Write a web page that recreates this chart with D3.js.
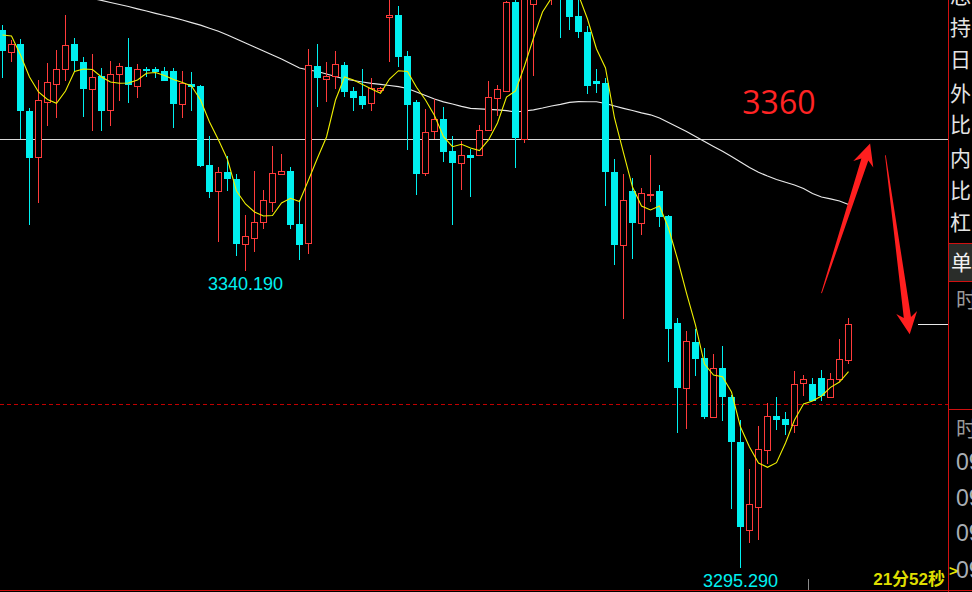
<!DOCTYPE html>
<html><head><meta charset="utf-8">
<script src="https://cdn.jsdelivr.net/npm/d3@7"></script>
<style>html,body{margin:0;padding:0;background:#000;overflow:hidden}svg{display:block}</style>
</head><body><svg id="c" width="972" height="592"></svg>
<script>
// ---- data (prices) ----
const opens = [3376.50,3373.23,3374.39,3364.28,3357.30,3365.59,3368.40,3370.57,3374.39,3371.68,3367.56,3369.56,3364.39,3369.82,3370.92,3368.01,3370.62,3370.62,3370.32,3370.32,3365.38,3368.36,3368.05,3356.13,3352.26,3355.03,3354.02,3344.26,3345.17,3347.58,3350.60,3354.82,3355.23,3347.23,3344.41,3371.07,3369.07,3369.56,3371.22,3367.30,3366.55,3365.44,3367.45,3378.51,3378.77,3372.58,3365.64,3354.97,3361.22,3363.08,3358.25,3356.48,3357.69,3357.69,3361.46,3366.29,3367.35,3380.73,3360.10,3380.38,3384.00,3383.00,3387.00,3382.00,3378.62,3376.20,3368.81,3368.51,3355.08,3344.11,3352.21,3347.43,3351.61,3352.21,3348.44,3332.30,3322.56,3329.43,3327.01,3318.16,3325.48,3321.13,3314.34,3301.02,3304.49,3313.09,3318.27,3317.81,3316.95,3323.20,3323.09,3323.95,3321.18,3323.89,3326.76];
const highs = [3377.26,3374.99,3375.15,3364.78,3368.96,3371.57,3373.49,3378.77,3375.34,3372.48,3372.88,3370.72,3371.83,3371.52,3375.34,3371.37,3370.92,3370.92,3370.92,3370.77,3370.32,3370.17,3368.21,3360.51,3355.88,3357.49,3354.78,3348.59,3355.23,3352.36,3359.00,3357.79,3355.83,3350.85,3373.64,3374.39,3371.68,3373.34,3371.68,3367.90,3370.62,3369.26,3367.90,3381.80,3380.12,3373.34,3365.94,3364.58,3366.14,3364.89,3360.51,3359.76,3358.59,3362.17,3368.81,3368.21,3380.90,3381.00,3384.50,3385.50,3387.00,3387.50,3388.00,3382.50,3381.50,3377.11,3370.62,3369.20,3357.00,3354.78,3354.13,3352.66,3357.64,3353.12,3348.59,3333.01,3331.09,3331.35,3328.49,3327.62,3328.83,3321.43,3317.66,3310.27,3316.76,3320.23,3321.13,3318.87,3325.05,3324.45,3324.00,3325.20,3324.75,3329.88,3333.05];
const lows = [3369.31,3371.72,3360.01,3347.08,3350.45,3362.02,3363.27,3368.85,3370.21,3363.42,3361.31,3361.31,3362.06,3365.84,3365.53,3366.29,3369.46,3369.31,3368.81,3361.76,3363.27,3364.33,3355.88,3351.20,3344.56,3352.26,3342.40,3340.19,3343.05,3346.48,3349.04,3354.63,3346.48,3341.80,3342.71,3364.89,3365.64,3367.60,3366.40,3364.28,3364.58,3364.28,3367.15,3371.72,3370.97,3358.40,3351.61,3354.52,3360.01,3356.63,3347.13,3352.36,3351.35,3357.64,3361.31,3363.57,3367.20,3355.73,3359.50,3369.61,3382.00,3380.28,3375.34,3376.50,3375.34,3366.85,3367.04,3349.95,3341.09,3332.94,3342.00,3345.62,3350.60,3346.83,3326.46,3315.74,3316.35,3324.30,3317.76,3318.11,3317.55,3304.28,3295.29,3299.15,3299.60,3311.07,3316.15,3315.44,3315.74,3321.33,3320.48,3320.57,3321.18,3323.44,3326.16];
const closes = [3373.38,3374.39,3364.33,3357.24,3365.94,3368.66,3370.57,3374.24,3371.83,3367.65,3369.41,3364.33,3369.86,3371.07,3368.25,3370.62,3370.32,3370.12,3368.85,3365.38,3368.51,3367.95,3356.03,3352.11,3355.03,3354.02,3344.21,3345.38,3347.53,3350.81,3354.88,3355.18,3347.08,3344.07,3371.18,3369.26,3369.56,3371.37,3367.15,3366.24,3365.19,3367.71,3367.75,3378.77,3372.48,3365.23,3354.82,3361.07,3363.08,3358.14,3356.48,3357.64,3357.24,3361.37,3366.39,3367.56,3380.68,3360.25,3383.50,3384.50,3386.00,3386.00,3382.00,3378.51,3376.25,3368.10,3368.40,3355.12,3344.11,3350.85,3347.43,3351.86,3351.80,3348.33,3331.39,3322.56,3329.55,3326.91,3318.16,3325.48,3321.06,3314.39,3301.56,3304.99,3313.24,3318.22,3317.71,3316.95,3323.05,3323.85,3320.48,3321.33,3323.89,3326.82,3332.10];
const maShort = [3375.75,3375.60,3372.73,3369.41,3367.15,3366.02,3365.44,3367.30,3370.24,3370.62,3370.54,3369.41,3368.66,3368.46,3368.51,3368.96,3369.97,3370.09,3369.64,3369.03,3368.58,3368.05,3365.94,3362.62,3359.91,3356.96,3352.21,3350.25,3349.04,3348.44,3348.52,3350.40,3351.11,3350.63,3353.87,3357.19,3360.36,3365.94,3369.41,3368.96,3368.28,3367.60,3366.95,3369.11,3370.36,3370.24,3367.86,3365.94,3363.60,3360.40,3358.90,3359.26,3358.70,3358.32,3359.91,3362.47,3366.39,3367.30,3371.07,3375.30,3379.22,3381.33,3382.84,3383.29,3381.78,3378.16,3373.64,3370.77,3363.23,3357.95,3352.81,3349.95,3349.35,3349.95,3346.63,3341.95,3336.82,3331.99,3326.11,3324.45,3324.19,3321.88,3316.60,3313.59,3311.17,3310.52,3311.22,3314.19,3317.66,3320.07,3320.53,3321.28,3322.59,3323.39,3324.95];
const maLong = [3384.65,3384.35,3383.97,3383.60,3383.22,3382.84,3382.46,3382.09,3381.78,3381.48,3381.26,3380.97,3380.65,3380.35,3380.05,3379.70,3379.37,3379.02,3378.69,3378.36,3378.01,3377.62,3377.23,3376.76,3376.32,3375.75,3375.15,3374.54,3373.94,3373.33,3372.73,3372.13,3371.45,3370.77,3370.47,3370.24,3369.86,3369.49,3369.11,3368.88,3368.66,3368.46,3368.31,3368.13,3367.95,3367.68,3367.15,3366.62,3366.09,3365.67,3365.34,3364.99,3364.69,3364.61,3364.54,3364.46,3364.33,3364.13,3364.28,3364.46,3364.73,3365.04,3365.29,3365.58,3365.70,3365.68,3365.68,3365.41,3365.04,3364.69,3364.36,3364.01,3363.71,3363.23,3362.55,3361.87,3361.19,3360.44,3359.68,3358.93,3358.20,3357.42,3356.59,3355.76,3355.03,3354.47,3353.95,3353.53,3353.12,3352.59,3351.83,3351.31,3351.03,3350.70,3350.17];
const levelLine = 3360;
const dashLevel = 3320;
const extremeLabels = [{i:27, price:3340.19}, {i:82, price:3295.29}];
const arrows = [{from:[91.0,3336.8], to:[96.4,3359.4]}, {from:[98.1,3357.6], to:[100.8,3330.6]}];
const panelTop = ["总","持","日","外","比","内","比","杠"];
const panelTimes = ["09","09","09","09"];
const countdown = "21分52秒";

// ---- drawing ----
const W = 972, H = 592, PX = 948;
const CYAN = "#00f0f0", RED = "#ff3b3b";
const svg = d3.select("#c");
svg.append("rect").attr("width", W).attr("height", H).attr("fill", "#000");

const x = d3.scaleLinear().domain([0, 94]).range([2.5, 848.5]);
const y = d3.scaleLinear().domain([3291.71, 3381.03]).range([H, 0]);

const defs = svg.append("defs");
defs.append("clipPath").attr("id", "plot").append("rect").attr("x", 0).attr("y", 0).attr("width", PX).attr("height", H);
const g = svg.append("g").attr("clip-path", "url(#plot)");

const data = opens.map((o, i) => ({i, o, h: highs[i], l: lows[i], c: closes[i], up: closes[i] >= opens[i]}));

// white horizontal level line
g.append("line").attr("x1", 0).attr("x2", PX).attr("y1", y(levelLine)).attr("y2", y(levelLine))
  .attr("stroke", "#d8d8d8").attr("stroke-width", 1).attr("shape-rendering", "crispEdges");
// red dashed line
g.append("line").attr("x1", 0).attr("x2", PX).attr("y1", y(dashLevel)).attr("y2", y(dashLevel))
  .attr("stroke", "#c00000").attr("stroke-width", 1).attr("stroke-dasharray", "4,3").attr("shape-rendering", "crispEdges");

// long MA (white)
const lineGen = d3.line().x((d, i) => x(i)).y(d => y(d));
g.append("path").attr("d", lineGen(maLong)).attr("fill", "none").attr("stroke", "#e8e8e8").attr("stroke-width", 1.2);

// candles
const cg = g.append("g");
cg.selectAll("line.wick").data(data).join("line").attr("class", "wick")
  .attr("x1", d => x(d.i)).attr("x2", d => x(d.i))
  .attr("y1", d => y(d.h)).attr("y2", d => y(d.l))
  .attr("stroke", d => d.up ? RED : CYAN).attr("stroke-width", 1).attr("shape-rendering", "crispEdges");
cg.selectAll("rect.dn").data(data.filter(d => !d.up)).join("rect").attr("class", "dn")
  .attr("x", d => x(d.i) - 3.5).attr("width", 7)
  .attr("y", d => y(d.o)).attr("height", d => Math.max(1.5, y(d.c) - y(d.o)))
  .attr("fill", CYAN).attr("shape-rendering", "crispEdges");
cg.selectAll("rect.up").data(data.filter(d => d.up)).join("rect").attr("class", "up")
  .attr("x", d => x(d.i) - 3).attr("width", 6)
  .attr("y", d => Math.round(y(d.c)) + 0.5).attr("height", d => Math.max(1, Math.round(y(d.o)) - Math.round(y(d.c))))
  .attr("fill", "#000").attr("stroke", RED).attr("stroke-width", 1).attr("shape-rendering", "crispEdges");

// short MA (yellow)
g.append("path").attr("d", lineGen(maShort)).attr("fill", "none").attr("stroke", "#f0f000").attr("stroke-width", 1.1);

// extreme labels
g.selectAll("text.ext").data(extremeLabels).join("text").attr("class", "ext")
  .attr("x", d => x(d.i)).attr("y", d => y(d.price) + 19)
  .attr("text-anchor", "middle").attr("fill", CYAN)
  .attr("font-family", "Liberation Sans, Arial, sans-serif").attr("font-size", 18)
  .text(d => d3.format(".3f")(d.price));

// level annotation text
g.append("text").attr("x", x(82.2)).attr("y", y(3363.9)).attr("fill", "#ff2424")
  .attr("font-family", "Open Sans, sans-serif").attr("font-size", 32).text(String(levelLine));

// arrows
function arrowPath(x0, y0, x1, y1) {
  const dx = x1 - x0, dy = y1 - y0, L = Math.hypot(dx, dy);
  const ux = dx / L, uy = dy / L, nx = -uy, ny = ux;
  const headLen = 22, headW = 10.5, neck = 17, shaftW = 3.6, tailW = 0.4;
  const bx = x1 - ux * neck, by = y1 - uy * neck;       // where shaft meets head
  const hx = x1 - ux * headLen, hy = y1 - uy * headLen; // barb base
  const p = [
    [x0 + nx * tailW, y0 + ny * tailW],
    [bx + nx * shaftW, by + ny * shaftW],
    [hx + nx * headW, hy + ny * headW],
    [x1, y1],
    [hx - nx * headW, hy - ny * headW],
    [bx - nx * shaftW, by - ny * shaftW],
    [x0 - nx * tailW, y0 - ny * tailW]
  ];
  return "M" + p.map(q => q[0].toFixed(1) + "," + q[1].toFixed(1)).join("L") + "Z";
}
svg.selectAll("path.arrow").data(arrows).join("path").attr("class", "arrow")
  .attr("d", d => arrowPath(x(d.from[0]), y(d.from[1]), x(d.to[0]), y(d.to[1])))
  .attr("fill", "#ff1f1f");

// last price short white line
svg.append("line").attr("x1", x(101.7)).attr("x2", PX).attr("y1", y(closes[closes.length - 1])).attr("y2", y(closes[closes.length - 1]))
  .attr("stroke", "#e8e8e8").attr("stroke-width", 1).attr("shape-rendering", "crispEdges");

// ---- right panel ----
const pr = (x1, y1, x2, y2) => svg.append("line").attr("x1", x1).attr("y1", y1).attr("x2", x2).attr("y2", y2)
  .attr("stroke", "#d01010").attr("stroke-width", 1).attr("shape-rendering", "crispEdges");
svg.append("rect").attr("x", 949).attr("y", 244).attr("width", 23).attr("height", 37).attr("fill", "#2a2d2a");
pr(948.5, 0, 948.5, H);
pr(948, 243.5, W, 243.5);
pr(948, 281.5, W, 281.5);
pr(948, 409.5, W, 409.5);
pr(0, 590.5, W, 590.5);

const cjk = "Noto Sans CJK SC, sans-serif";
const topCenters = [-5, 27, 59, 93, 124, 158, 190, 222];
svg.selectAll("text.pt").data(panelTop).join("text").attr("class", "pt")
  .attr("x", 950).attr("y", (d, i) => topCenters[i] + 8)
  .attr("fill", "#e4e4e4").attr("font-family", cjk).attr("font-size", 21).text(d => d);
svg.append("text").attr("x", 951).attr("y", 270).attr("fill", "#f2f2f2").attr("font-family", cjk).attr("font-size", 21).text("单");
svg.append("text").attr("x", 956).attr("y", 307).attr("fill", "#9a9a9a").attr("font-family", cjk).attr("font-size", 21).text("时");
svg.append("text").attr("x", 956).attr("y", 436).attr("fill", "#9a9a9a").attr("font-family", cjk).attr("font-size", 21).text("时");
const tBase = [470, 506, 541, 578];
svg.selectAll("text.tm").data(panelTimes).join("text").attr("class", "tm")
  .attr("x", 956).attr("y", (d, i) => tBase[i])
  .attr("fill", "#a8aeb4").attr("font-family", "Liberation Sans Narrow, Liberation Sans, sans-serif").attr("font-size", 23).text(d => d);
svg.append("text").attr("x", 949).attr("y", 576).attr("fill", "#e6e600").attr("font-family", "Liberation Sans, sans-serif")
  .attr("font-weight", "bold").attr("font-size", 15).text(">");

// countdown + bottom tick
svg.append("text").attr("x", 945).attr("y", 585).attr("text-anchor", "end").attr("fill", "#dede00")
  .attr("font-family", "Liberation Sans, Noto Sans CJK SC, sans-serif").attr("font-weight", "bold").attr("font-size", 17).text(countdown);
svg.append("line").attr("x1", 808.5).attr("x2", 808.5).attr("y1", 579).attr("y2", 590)
  .attr("stroke", "#8a8a8a").attr("stroke-width", 1).attr("shape-rendering", "crispEdges");
</script>
</body></html>
